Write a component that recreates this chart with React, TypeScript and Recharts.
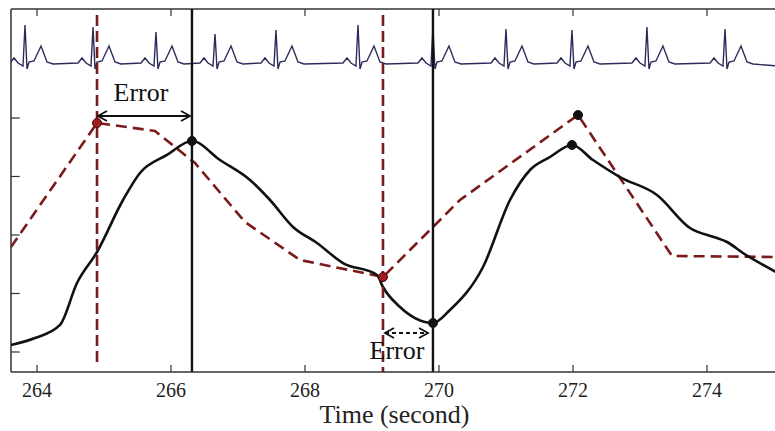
import {
  LineChart,
  Line,
  XAxis,
  YAxis,
  ReferenceLine,
  ReferenceDot,
} from "recharts";

// axis ticks (time in seconds, y has unlabeled ticks)
const xTicks = [264, 266, 268, 270, 272, 274];
const yTicks = [0, 1, 2, 3, 4];

// dashed (estimated) curve, piecewise linear
const estimatedTimes = [263.612, 264.896, 265.761, 266.358, 267.104, 267.925, 269.164, 270.313, 272.075, 273.478, 275.06];
const estimatedValues = [1.795, 3.915, 3.778, 3.231, 2.222, 1.573, 1.282, 2.598, 4.051, 1.641, 1.624];

// solid (reference) curve
const measuredTimes = [
  263.612, 263.97, 264.343, 264.597, 264.896, 265.284, 265.537, 265.94, 266.313, 266.731, 267.179,
  267.478, 267.821, 268.179, 268.567, 269.075, 269.164, 269.418, 269.91, 270.164, 270.657, 271.06,
  271.358, 271.657, 271.985, 272.299, 272.701, 273.254, 273.746, 274.149, 274.299, 274.537, 275.06,
];
const measuredValues = [
  0.12, 0.239, 0.462, 1.179, 1.709, 2.598, 3.06, 3.368, 3.607, 3.282, 2.94,
  2.598, 2.137, 1.863, 1.521, 1.316, 1.111, 0.769, 0.496, 0.718, 1.453, 2.598,
  3.111, 3.333, 3.538, 3.282, 2.991, 2.684, 2.12, 1.949, 1.88, 1.692, 1.35,
];

// ECG trace: R-peak times/heights and the beat shape around each R peak
const rPeakTimes = [263.821, 264.836, 265.776, 266.657, 267.567, 268.791, 269.91, 271.0, 271.985, 273.104, 274.269];
const rPeakValues = [5.59, 5.556, 5.47, 5.436, 5.504, 5.59, 5.538, 5.521, 5.504, 5.556, 5.521];
const beatOffsets = [-0.224, -0.164, -0.104, -0.03, 0, 0.03, 0.06, 0.134, 0.239, 0.328, 0.418];
const beatValues = [4.94, 5.026, 4.94, 4.889, 0, 4.838, 4.957, 4.974, 5.231, 4.957, 4.923];
const ecgEnd = { t: 275.06, v: 4.889 };

// markers and annotations
const blackDots = [
  { t: 266.313, v: 3.607 },
  { t: 269.91, v: 0.496 },
  { t: 271.985, v: 3.538 },
  { t: 272.075, v: 4.051 },
];
const redDots = [
  { t: 264.896, v: 3.915 },
  { t: 269.164, v: 1.282 },
];

const X_DOMAIN: [number, number] = [263.612, 275.06];
const Y_DOMAIN: [number, number] = [-0.342, 5.863];

const estimatedData = estimatedTimes.map((t, i) => ({ t, v: estimatedValues[i] }));
const measuredData = measuredTimes.map((t, i) => ({ t, v: measuredValues[i] }));
const ecgData: { t: number; v: number }[] = [];
rPeakTimes.forEach((rt, b) => {
  beatOffsets.forEach((dt, k) => {
    ecgData.push({ t: rt + dt, v: k === 4 ? rPeakValues[b] : beatValues[k] });
  });
});
ecgData.push(ecgEnd);

const FONT = "'Liberation Serif', 'Times New Roman', serif";
const AXIS = "#333";
const RED = "#7b1a1a";
const INK = "#111";

const BottomTick = (props: any) => {
  const { x, y, payload } = props;
  return (
    <g>
      <line x1={x} y1={y} x2={x} y2={y - 7} stroke={AXIS} strokeWidth={1.2} />
      <text x={x} y={y + 25} textAnchor="middle" fontFamily={FONT} fontSize={20} fill="#222">
        {payload.value}
      </text>
    </g>
  );
};

const arrowShape = (dashed: boolean) => (props: any) => {
  const { x1, y1, x2, y2 } = props;
  const h = 9;
  const w = 5;
  return (
    <g stroke={INK} strokeWidth={1.8} fill="none">
      <line x1={x1} y1={y1} x2={x2} y2={y2} strokeDasharray={dashed ? "4 3" : undefined} />
      <path d={`M${x1 + h},${y1 - w} L${x1},${y1} L${x1 + h},${y1 + w}`} />
      <path d={`M${x2 - h},${y2 - w} L${x2},${y2} L${x2 - h},${y2 + w}`} />
    </g>
  );
};

const errorLabel = {
  value: "Error",
  position: "center" as const,
  fontFamily: FONT,
  fontSize: 26,
  fill: INK,
};

export default function App() {
  return (
    <div
      style={{
        position: "fixed",
        left: 0,
        top: 0,
        width: 775,
        height: 431,
        overflow: "hidden",
        background: "#fff",
      }}
    >
      <LineChart width={800} height={431} margin={{ top: 9, right: 22, left: 11, bottom: 0 }}>
        <XAxis
          dataKey="t"
          type="number"
          domain={X_DOMAIN}
          ticks={xTicks}
          allowDataOverflow
          height={59}
          tickSize={0}
          tickMargin={0}
          tick={<BottomTick />}
          axisLine={{ stroke: AXIS, strokeWidth: 1.5 }}
          label={{
            value: "Time (second)",
            position: "insideBottom",
            offset: 8,
            fontFamily: FONT,
            fontSize: 26,
            fill: "#222",
          }}
        />
        <YAxis type="number" domain={Y_DOMAIN} ticks={yTicks} allowDataOverflow hide />

        {/* box: top and left edges */}
        <ReferenceLine y={Y_DOMAIN[1]} stroke={AXIS} strokeWidth={1.5} />
        <ReferenceLine x={X_DOMAIN[0]} stroke={AXIS} strokeWidth={1.5} />
        {/* inward ticks on the top edge and the left edge */}
        {xTicks.map((t) => (
          <ReferenceLine
            key={`tt${t}`}
            segment={[{ x: t, y: Y_DOMAIN[1] }, { x: t, y: Y_DOMAIN[1] - 0.12 }]}
            stroke={AXIS}
            strokeWidth={1.2}
          />
        ))}
        {yTicks.map((v) => (
          <ReferenceLine
            key={`lt${v}`}
            segment={[{ x: X_DOMAIN[0], y: v }, { x: X_DOMAIN[0] + 0.13, y: v }]}
            stroke={AXIS}
            strokeWidth={1.2}
          />
        ))}

        <Line
          data={ecgData}
          dataKey="v"
          type="linear"
          stroke="#2c2c5c"
          strokeWidth={1.4}
          dot={false}
          isAnimationActive={false}
        />
        <Line
          data={estimatedData}
          dataKey="v"
          type="linear"
          stroke={RED}
          strokeWidth={2.6}
          strokeDasharray="11 6"
          dot={false}
          isAnimationActive={false}
        />
        <Line
          data={measuredData}
          dataKey="v"
          type="monotone"
          stroke={INK}
          strokeWidth={2.6}
          dot={false}
          isAnimationActive={false}
        />

        <ReferenceLine
          segment={[{ x: 264.896, y: 5.76 }, { x: 264.896, y: -0.19 }]}
          stroke={RED}
          strokeWidth={2.6}
          strokeDasharray="11 5"
        />
        <ReferenceLine
          segment={[{ x: 269.164, y: 5.76 }, { x: 269.164, y: -0.342 }]}
          stroke={RED}
          strokeWidth={2.6}
          strokeDasharray="11 5"
        />
        <ReferenceLine x={266.313} stroke={INK} strokeWidth={2.4} />
        <ReferenceLine x={269.91} stroke={INK} strokeWidth={2.4} />

        <ReferenceLine
          segment={[{ x: 264.91, y: 4.034 }, { x: 266.284, y: 4.034 }]}
          shape={arrowShape(false)}
        />
        <ReferenceLine
          segment={[{ x: 269.194, y: 0.325 }, { x: 269.836, y: 0.325 }]}
          shape={arrowShape(true)}
        />

        {redDots.map((d, i) => (
          <ReferenceDot key={`r${i}`} x={d.t} y={d.v} r={4.5} fill="#a11d1d" stroke="#4a0a0a" strokeWidth={1} />
        ))}
        {blackDots.map((d, i) => (
          <ReferenceDot key={`b${i}`} x={d.t} y={d.v} r={4.5} fill={INK} stroke={INK} />
        ))}

        <ReferenceDot x={265.552} y={4.453} r={0} fill="none" stroke="none" label={errorLabel} />
        <ReferenceDot x={269.373} y={0.043} r={0} fill="none" stroke="none" label={errorLabel} />
      </LineChart>
    </div>
  );
}
